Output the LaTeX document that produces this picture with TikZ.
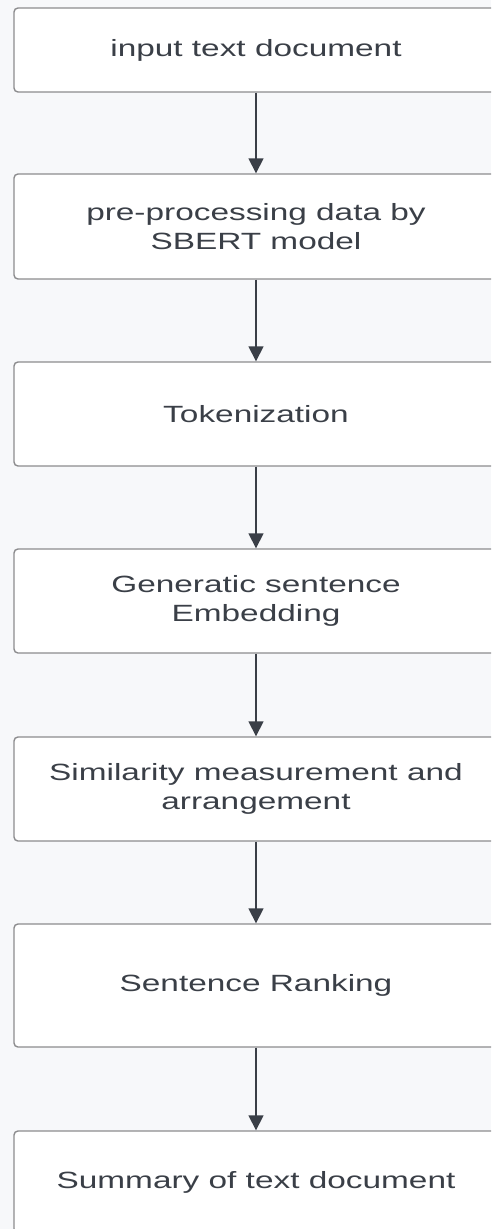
\documentclass[tikz,border=0pt]{standalone}
\usepackage{fontspec}
\setmainfont{Liberation Sans}[FakeStretch=1.42]
\usetikzlibrary{arrows.meta}
\definecolor{bg}{HTML}{F7F8FA}
\definecolor{boxline}{HTML}{8C8C8E}
\definecolor{ink}{HTML}{3A3F47}
\tikzset{
  stepbox/.style={draw=boxline, line width=1.4pt, fill=white, rounded corners=4pt,
    minimum width=484pt, align=center, text=ink, inner sep=0pt,
    font=\fontsize{23.5}{29}\selectfont},
  arr/.style={draw=ink, line width=1.6pt, -{Triangle[length=15pt,width=15pt]}},
}
\begin{document}
\begin{tikzpicture}[x=1pt,y=-1pt]
\useasboundingbox (0,0) rectangle (491,1229);
\fill[bg] (0,0) rectangle (491,1229);
\begin{scope}
\clip (0,0) rectangle (491,1229);
\node[stepbox, minimum height=84pt] (b1) at (256,50) {input text document};
\node[stepbox, minimum height=105pt] (b2) at (256,226.5) {pre-processing data by\\SBERT model};
\node[stepbox, minimum height=104pt] (b3) at (256,414) {Tokenization};
\node[stepbox, minimum height=104pt] (b4) at (256,601) {Generatic sentence\\Embedding};
\node[stepbox, minimum height=104pt] (b5) at (256,789) {Similarity measurement and\\arrangement};
\node[stepbox, minimum height=123pt] (b6) at (256,985.5) {Sentence Ranking};
\node[stepbox, minimum height=102pt] (b7) at (256,1182) {Summary of text document};
\draw[arr] (b1.south) -- (b2.north);
\draw[arr] (b2.south) -- (b3.north);
\draw[arr] (b3.south) -- (b4.north);
\draw[arr] (b4.south) -- (b5.north);
\draw[arr] (b5.south) -- (b6.north);
\draw[arr] (b6.south) -- (b7.north);
\end{scope}
\end{tikzpicture}
\end{document}
